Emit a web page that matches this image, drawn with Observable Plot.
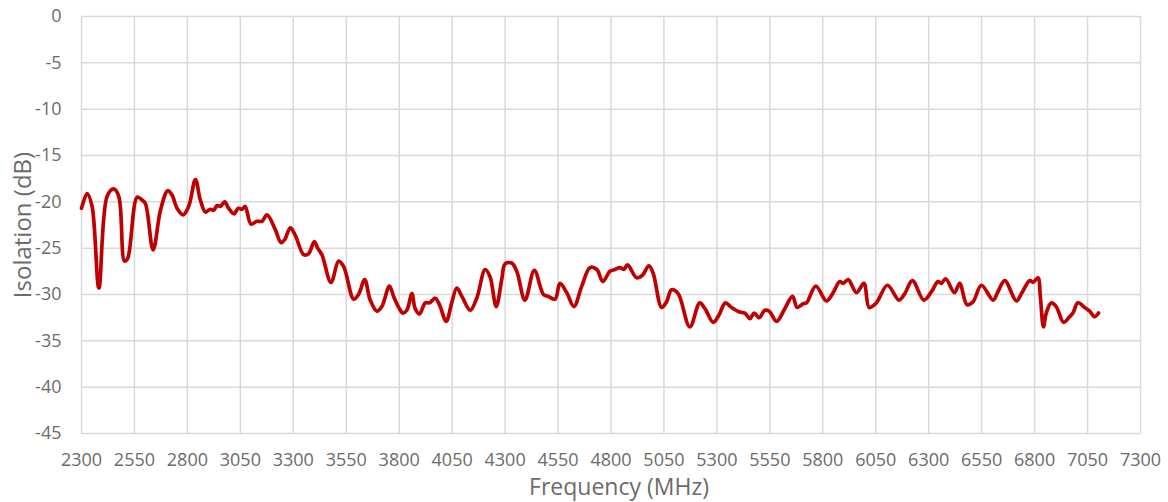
<!DOCTYPE html>
<html>
<head>
<meta charset="utf-8">
<script src="https://cdn.jsdelivr.net/npm/d3@7"></script>
<script src="https://cdn.jsdelivr.net/npm/@observablehq/plot@0.6"></script>
<style>
  html, body { margin: 0; padding: 0; background: #fff; }
</style>
</head>
<body>
<div id="chart"></div>
<script>
const freq = [2300,2327,2350,2382,2421,2452,2476,2503,2518,2563,2586,2602,2638,2673,2707,2728,2751,2780,2806,2838,2861,2885,2908,2924,2940,2956,2976,2995,3020,3040,3058,3073,3100,3128,3152,3176,3215,3242,3259,3286,3309,3349,3372,3399,3415,3435,3478,3514,3538,3585,3608,3637,3663,3695,3718,3754,3775,3800,3817,3836,3860,3875,3896,3923,3943,3970,3990,4022,4048,4072,4096,4135,4166,4206,4229,4258,4284,4300,4331,4355,4394,4438,4481,4504,4536,4559,4591,4625,4662,4701,4733,4761,4795,4819,4842,4861,4878,4921,4949,4979,4999,5039,5062,5086,5117,5172,5219,5243,5283,5310,5340,5369,5408,5432,5456,5476,5500,5526,5547,5582,5621,5657,5679,5707,5723,5767,5817,5849,5880,5896,5920,5959,5994,6019,6053,6105,6160,6187,6223,6277,6313,6344,6360,6380,6422,6446,6481,6509,6549,6604,6627,6659,6714,6738,6777,6793,6816,6827,6842,6855,6879,6902,6937,6965,6981,7004,7036,7060,7083,7102];
const isolation = [-20.7,-19.1,-20.5,-29.3,-19.4,-18.6,-19.4,-26.4,-26.1,-19.5,-19.8,-20.2,-25.2,-20.9,-18.8,-19.3,-20.7,-21.4,-20.5,-17.6,-19.8,-21.1,-20.8,-20.9,-20.4,-20.5,-20.0,-20.7,-21.3,-20.7,-20.8,-20.5,-22.4,-22.1,-22.1,-21.4,-23.0,-24.4,-24.1,-22.8,-23.6,-25.7,-25.6,-24.3,-25.0,-25.7,-28.7,-26.4,-27.0,-30.5,-30.0,-28.4,-30.6,-31.8,-31.3,-29.1,-30.3,-31.5,-32.0,-31.7,-29.9,-31.5,-32.1,-30.9,-30.9,-30.4,-31.1,-32.9,-30.9,-29.3,-30.2,-31.7,-30.4,-27.3,-28.1,-31.3,-28.4,-26.7,-26.6,-27.5,-30.6,-27.4,-30.0,-30.2,-30.5,-28.8,-29.8,-31.3,-29.1,-27.1,-27.3,-28.6,-27.5,-27.3,-27.1,-27.3,-26.8,-28.2,-27.9,-26.9,-27.7,-31.4,-30.8,-29.5,-29.9,-33.5,-30.9,-31.5,-33.0,-32.2,-30.9,-31.4,-31.9,-32.0,-32.6,-32.0,-32.5,-31.7,-31.8,-32.9,-31.5,-30.2,-31.4,-31.0,-30.9,-29.1,-30.7,-29.8,-28.6,-28.8,-28.4,-29.8,-28.8,-31.4,-30.9,-29.0,-30.6,-29.9,-28.5,-30.6,-29.7,-28.6,-28.8,-28.3,-29.8,-28.8,-31.1,-30.8,-29.0,-30.6,-29.7,-28.5,-30.7,-29.9,-28.5,-28.7,-28.2,-30.2,-33.5,-32.0,-30.9,-31.3,-33.0,-32.4,-32.0,-30.9,-31.4,-31.8,-32.4,-32.0];
const xTicks = [2300,2550,2800,3050,3300,3550,3800,4050,4300,4550,4800,5050,5300,5550,5800,6050,6300,6550,6800,7050,7300];
const yTicks = [0,-5,-10,-15,-20,-25,-30,-35,-40,-45];
const xTitle = "Frequency (MHz)";
const yTitle = "Isolation (dB)";

const data = freq.map((f, i) => ({f, v: isolation[i]}));

const grid = "#d9d9d9";
const textColor = "#6b6b6b";

const chart = Plot.plot({
  width: 1168,
  height: 502,
  marginLeft: 81,
  marginRight: 28,
  marginTop: 16,
  marginBottom: 69,
  style: {fontFamily: "'Open Sans', sans-serif", fontSize: "18px", color: textColor, background: "#fff"},
  x: {domain: [2300, 7300]},
  y: {domain: [-45, 0]},
  marks: [
    Plot.gridX(xTicks, {stroke: grid, strokeOpacity: 1, strokeWidth: 1.5}),
    Plot.gridY(yTicks, {stroke: grid, strokeOpacity: 1, strokeWidth: 1.5}),
    Plot.axisX({ticks: xTicks, tickSize: 0, tickPadding: 20, tickFormat: d => String(d), fill: textColor, label: null}),
    Plot.axisY({ticks: yTicks, tickSize: 0, tickPadding: 20, tickFormat: d => String(d), fill: textColor, label: null}),
    Plot.text([xTitle], {text: d => d, frameAnchor: "bottom", textAnchor: "middle", lineAnchor: "top", dx: 8, dy: 45, fontSize: 23, fill: textColor}),
    Plot.text([yTitle], {text: d => d, frameAnchor: "left", textAnchor: "middle", lineAnchor: "top", rotate: -90, dx: -68, dy: 0, fontSize: 24, fill: textColor}),
    Plot.line(data, {x: "f", y: "v", stroke: "#c00000", strokeWidth: 3.7, curve: "catmull-rom", strokeLinejoin: "round", strokeLinecap: "round"})
  ]
});
document.getElementById("chart").appendChild(chart);
</script>
</body>
</html>
